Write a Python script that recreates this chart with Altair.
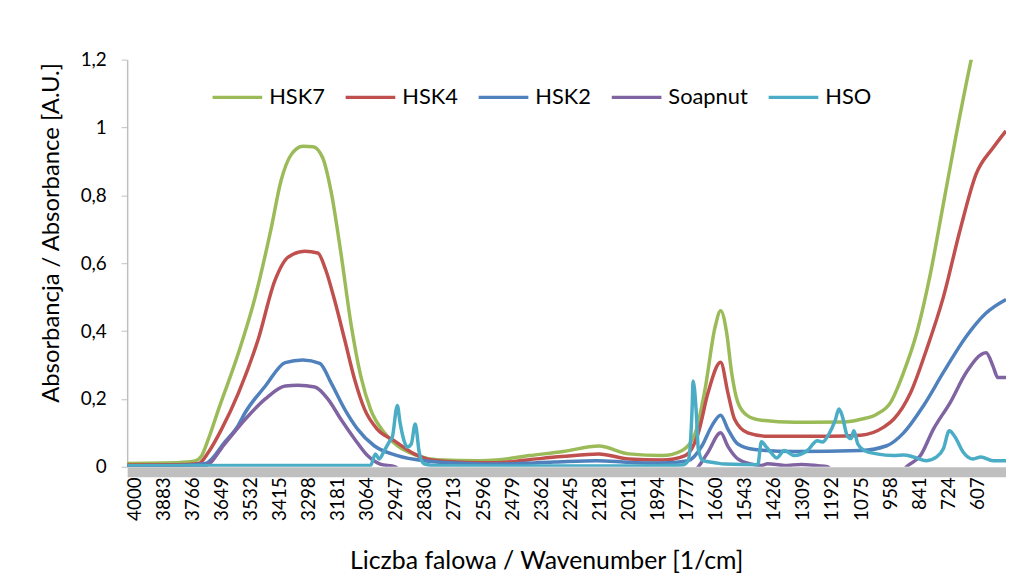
import altair as alt
import pandas as pd

SERIES = ["HSK7", "HSK4", "HSK2", "Soapnut", "HSO"]
COLORS = ["#9BBB59", "#C0504D", "#4F81BD", "#8064A2", "#4BACC6"]

X_TICKS = [4000, 3883, 3766, 3649, 3532, 3415, 3298, 3181, 3064, 2947, 2830,
           2713, 2596, 2479, 2362, 2245, 2128, 2011, 1894, 1777, 1660, 1543,
           1426, 1309, 1192, 1075, 958, 841, 724, 607]
Y_TICKS = [0, 0.2, 0.4, 0.6, 0.8, 1.0, 1.2]

hsk7_wn = [4028, 3876, 3785, 3752, 3728, 3701, 3660, 3580, 3513, 3448, 3409, 3368,
           3321, 3280, 3241, 3208, 3168, 3128, 3088, 3049, 2993, 2941, 2861, 2781,
           2609, 2542, 2409, 2274, 2130, 2010, 1875, 1795, 1742, 1703, 1663, 1640,
           1616, 1596, 1571, 1531, 1476, 1343, 1143, 1076, 1012, 956, 904, 851,
           796, 744, 692, 632, 593, 492]
hsk7_abs = [0.010, 0.011, 0.014, 0.018, 0.033, 0.082, 0.17, 0.336, 0.50, 0.705, 0.843, 0.92,
            0.945, 0.943, 0.91, 0.813, 0.63, 0.424, 0.267, 0.17, 0.10, 0.062, 0.033, 0.021,
            0.018, 0.020, 0.033, 0.045, 0.061, 0.038, 0.033, 0.048, 0.10, 0.228, 0.41, 0.46,
            0.395, 0.278, 0.19, 0.15, 0.137, 0.131, 0.132, 0.14, 0.155, 0.19, 0.278, 0.395,
            0.57, 0.775, 0.98, 1.20, 1.33, 1.60]

hsk4_wn = [4028, 3826, 3740, 3701, 3648, 3580, 3501, 3433, 3380, 3313, 3261, 3229,
           3193, 3153, 3113, 3073, 3022, 2954, 2873, 2809, 2664, 2542, 2411, 2280,
           2130, 2010, 1875, 1783, 1730, 1691, 1640, 1611, 1584, 1531, 1451, 1199,
           1076, 984, 944, 876, 812, 744, 677, 612, 544, 492]
hsk4_abs = [0.005, 0.006, 0.010, 0.043, 0.111, 0.218, 0.375, 0.55, 0.618, 0.635, 0.63, 0.58,
            0.49, 0.375, 0.258, 0.17, 0.111, 0.077, 0.038, 0.021, 0.013, 0.012, 0.021, 0.030,
            0.038, 0.023, 0.020, 0.033, 0.10, 0.218, 0.308, 0.218, 0.14, 0.10, 0.09, 0.09,
            0.093, 0.117, 0.14, 0.218, 0.345, 0.50, 0.697, 0.863, 0.94, 0.99]

hsk2_wn = [4028, 3826, 3713, 3633, 3583, 3553, 3472, 3392, 3321, 3253, 3208, 3153,
           3101, 3034, 2941, 2834, 2664, 2542, 2310, 2137, 2010, 1875, 1771, 1715,
           1676, 1640, 1611, 1571, 1503, 1343, 1076, 972, 904, 824, 744, 652, 572, 492]
hsk2_abs = [0.003, 0.004, 0.010, 0.075, 0.12, 0.16, 0.238, 0.307, 0.315, 0.305, 0.248, 0.17,
            0.111, 0.062, 0.033, 0.018, 0.010, 0.008, 0.014, 0.018, 0.013, 0.011, 0.018, 0.062,
            0.12, 0.152, 0.111, 0.067, 0.051, 0.045, 0.048, 0.062, 0.10, 0.18, 0.278, 0.384,
            0.453, 0.493]

soap_wn = [4028, 3826, 3713, 3633, 3553, 3472, 3392, 3341, 3273, 3221, 3168, 3113,
           3061, 3010, 2949, 2917, 2714, 2007, 1765, 1730, 1691, 1640, 1611, 1571,
           1516, 1476, 1451, 1384, 1316, 1249, 1211, 1179, 997, 916, 892, 836,
           784, 716, 652, 572, 544, 525, 492]
soap_abs = [0.002, 0.002, 0.004, 0.07, 0.14, 0.20, 0.238, 0.24, 0.235, 0.20, 0.14, 0.082,
            0.033, 0.008, 0.0, -0.02, -0.03, -0.03, -0.02, 0.0, 0.043, 0.10, 0.06, 0.023,
            0.008, 0.004, 0.009, 0.004, 0.007, 0.003, 0.0, -0.02, -0.03, -0.02, 0.0, 0.033,
            0.111, 0.19, 0.278, 0.336, 0.296, 0.263, 0.263]

hso_wn = [4028, 3523, 3049, 3029, 3014, 2993, 2973, 2961, 2941, 2930, 2914, 2901,
          2885, 2869, 2853, 2834, 2781, 2411, 2007, 1795, 1771, 1755, 1751, 1739,
          1730, 1711, 1663, 1623, 1491, 1476, 1456, 1435, 1415, 1384, 1343, 1291,
          1251, 1231, 1204, 1180, 1164, 1151, 1131, 1116, 1104, 1088, 1063, 1012,
          944, 904, 864, 812, 771, 744, 720, 697, 664, 624, 593, 544, 492]
hso_abs = [0.003, 0.004, 0.004, 0.038, 0.023, 0.048, 0.074, 0.088, 0.181, 0.13, 0.077, 0.058,
           0.067, 0.126, 0.043, 0.009, 0.003, 0.002, 0.002, 0.005, 0.018, 0.17, 0.253, 0.17,
           0.053, 0.018, 0.012, 0.008, 0.006, 0.074, 0.058, 0.04, 0.026, 0.048, 0.033, 0.048,
           0.077, 0.073, 0.097, 0.135, 0.17, 0.15, 0.092, 0.083, 0.106, 0.067, 0.048, 0.038,
           0.033, 0.035, 0.029, 0.018, 0.029, 0.053, 0.106, 0.088, 0.043, 0.023, 0.029, 0.018,
           0.018]

rows = []
for name, wn, ab in [("HSK7", hsk7_wn, hsk7_abs), ("HSK4", hsk4_wn, hsk4_abs),
                     ("HSK2", hsk2_wn, hsk2_abs), ("Soapnut", soap_wn, soap_abs),
                     ("HSO", hso_wn, hso_abs)]:
    for w, a in zip(wn, ab):
        rows.append({"series": name, "wn": w, "abs": a})
df = pd.DataFrame(rows)

FONT = "Lato"

lines = alt.Chart(df).mark_line(strokeWidth=3.5, interpolate="monotone", clip=True).encode(
    x=alt.X("wn:Q",
            scale=alt.Scale(domain=[4028, 492], nice=False, zero=False),
            axis=alt.Axis(values=X_TICKS, format="d", labelAngle=270, labelFont=FONT,
                          labelFontSize=19, labelColor="black", ticks=False, tickSize=0,
                          labelPadding=5, domainColor="#BFBFBF", domainWidth=10, offset=5,
                          grid=False, labelFlush=False, labelOverlap=False,
                          title="Liczba falowa / Wavenumber [1/cm]", titleFont=FONT,
                          titleFontSize=25, titleFontWeight="normal", titleColor="black",
                          titleX=422, titleY=89, titleBaseline="middle")),
    y=alt.Y("abs:Q",
            scale=alt.Scale(domain=[0, 1.2], nice=False, zero=False),
            axis=alt.Axis(values=Y_TICKS,
                          labelExpr="replace(format(datum.value, '.1~f'), '.', ',')",
                          labelFont=FONT, labelFontSize=19, labelColor="black",
                          tickSize=6, tickColor="#BFBFBF", domainColor="#BFBFBF",
                          domainWidth=1.5, labelPadding=15, grid=False,
                          title="Absorbancja / Absorbance [A.U.]", titleFont=FONT,
                          titleFontSize=24, titleFontWeight="normal", titleColor="black",
                          titleX=-76, titleY=174, titleAngle=270, titleBaseline="middle")),
    color=alt.Color("series:N",
                    scale=alt.Scale(domain=SERIES, range=COLORS),
                    legend=alt.Legend(title=None, orient="none", direction="horizontal",
                                      legendX=84, legendY=11, symbolType="stroke",
                                      symbolSize=2500, symbolStrokeWidth=3.5,
                                      labelFont=FONT, labelFontSize=22, labelColor="black",
                                      labelOffset=5, columnPadding=13, padding=0)),
    order=alt.Order("wn:Q", sort="descending"),
)

chart = lines.properties(
    width=885, height=410,
    autosize=alt.AutoSizeParams(type="none"),
    padding={"left": 120, "top": 50, "right": 0, "bottom": 110},
).configure_view(stroke=None)

chart.save("out.html", embed_options={"renderer": "svg", "actions": False})
